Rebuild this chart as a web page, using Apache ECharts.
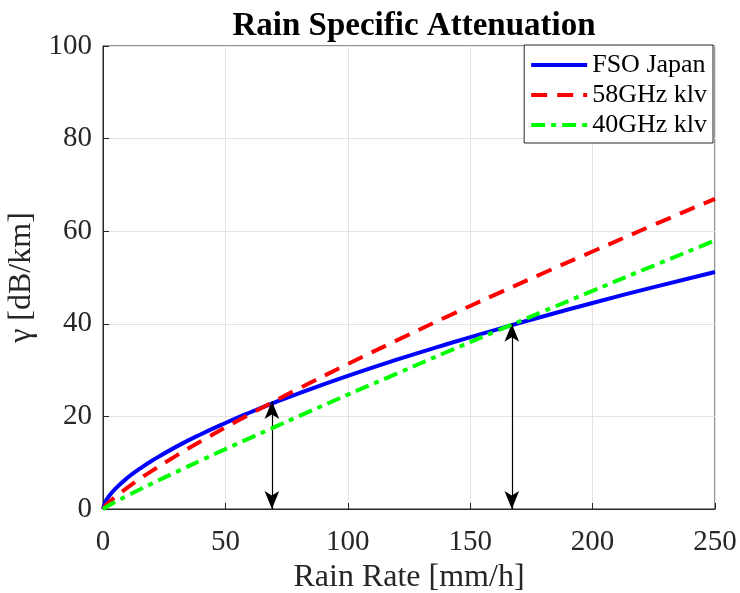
<!DOCTYPE html>
<html><head><meta charset="utf-8">
<script src="https://cdn.jsdelivr.net/npm/echarts@6/dist/echarts.min.js"></script>
<style>html,body{margin:0;padding:0;background:#fff}#c{width:740px;height:593px}</style>
</head><body><div id="c"></div>
<script>
const rainRate = [0, 1, 2, 5, 10, 15, 20, 30, 40, 50, 60, 70, 80, 100, 120, 140, 160, 180, 200, 225, 250];
const fsoJapan = [0, 1.58, 2.45, 4.35, 6.74, 8.70, 10.43, 13.47, 16.15, 18.58, 20.84, 22.96, 24.98, 28.75, 32.25, 35.53, 38.65, 41.64, 44.50, 47.93, 51.2];
const ghz58 = [0, 0.69, 1.22, 2.61, 4.63, 6.5, 8.24, 11.53, 14.64, 17.61, 20.48, 23.28, 26.02, 31.31, 36.41, 41.42, 46.24, 50.98, 55.62, 61.37, 67.0];
const ghz40 = [0, 0.34, 0.64, 1.51, 2.88, 4.2, 5.50, 8.02, 10.50, 12.93, 15.32, 17.67, 20.03, 24.69, 29.24, 33.80, 38.27, 42.71, 47.11, 52.58, 58.0];
const arrowX = [69, 167];
const arrowTop = [23.3, 40];
const xTicks = [0, 50, 100, 150, 200, 250];
const yTicks = [0, 20, 40, 60, 80, 100];

const font = 'Liberation Serif';
const pair = (xs, ys) => xs.map((x, i) => [x, ys[i]]);
const chart = echarts.init(document.getElementById('c'));
chart.setOption({
  animation: false,
  title: { text: 'Rain Specific Attenuation', left: 409, top: 5, textAlign: 'center',
    textStyle: { fontFamily: font, fontWeight: 'bold', fontSize: 33, color: '#000' } },
  grid: { left: 103, right: 25, top: 46, bottom: 84, show: true, borderColor: '#262626', borderWidth: 1,
    containLabel: false, outerBoundsMode: 'none' },
  legend: {
    right: 27, top: 45, orient: 'vertical', itemWidth: 56, itemHeight: 14, itemGap: 4,
    backgroundColor: '#fff', borderColor: '#262626', borderWidth: 1, padding: [7, 6, 5, 5],
    itemStyle: { opacity: 0 },
    lineStyle: { width: 4 },
    textStyle: { fontFamily: font, fontSize: 26, lineHeight: 26, color: '#000' },
    data: ['FSO Japan', '58GHz klv', '40GHz klv']
  },
  xAxis: {
    type: 'value', min: 0, max: 250, interval: 50,
    name: 'Rain Rate [mm/h]', nameLocation: 'middle', nameGap: 50,
    nameTextStyle: { fontFamily: font, fontSize: 32, color: '#262626' },
    axisLine: { lineStyle: { color: '#262626' } },
    axisTick: { inside: true, length: 6, lineStyle: { color: '#262626' } },
    axisLabel: { fontFamily: font, fontSize: 29, color: '#262626', margin: 19,
      formatter: v => xTicks.includes(v) ? String(v) : '' },
    splitLine: { lineStyle: { color: '#e3e3e3' } }
  },
  yAxis: {
    type: 'value', min: 0, max: 100, interval: 20,
    name: 'γ [dB/km]', nameLocation: 'middle', nameGap: 56,
    nameTextStyle: { fontFamily: font, fontSize: 32, color: '#262626' },
    axisLine: { show: true, lineStyle: { color: '#262626' } },
    axisTick: { show: true, inside: true, length: 6, lineStyle: { color: '#262626' } },
    axisLabel: { fontFamily: font, fontSize: 29, color: '#262626', margin: 11,
      formatter: v => yTicks.includes(v) ? String(v) : '' },
    splitLine: { lineStyle: { color: '#e3e3e3' } }
  },
  series: [
    { name: 'FSO Japan', type: 'line', smooth: true, showSymbol: false, symbol: 'none', z: 3,
      data: pair(rainRate, fsoJapan), lineStyle: { color: '#0000ff', width: 4 }, itemStyle: { color: '#0000ff' } },
    { name: '58GHz klv', type: 'line', smooth: true, showSymbol: false, symbol: 'none', z: 4,
      data: pair(rainRate, ghz58), lineStyle: { color: '#ff0000', width: 4, type: [16, 10] }, itemStyle: { color: '#ff0000' } },
    { name: '40GHz klv', type: 'line', smooth: true, showSymbol: false, symbol: 'none', z: 5,
      data: pair(rainRate, ghz40), lineStyle: { color: '#00ff00', width: 4, type: [14, 6, 5, 6] }, itemStyle: { color: '#00ff00' } },
    { name: 'arrows', type: 'line', data: [], z: 6,
      markLine: {
        silent: true, symbol: ['arrow', 'arrow'], symbolSize: [11, 18],
        label: { show: false },
        lineStyle: { color: '#000', width: 1.2, type: 'solid' },
        data: arrowX.map((x, i) => [{ coord: [x, arrowTop[i]] }, { coord: [x, 0] }])
      }
    }
  ]
});
</script></body></html>
